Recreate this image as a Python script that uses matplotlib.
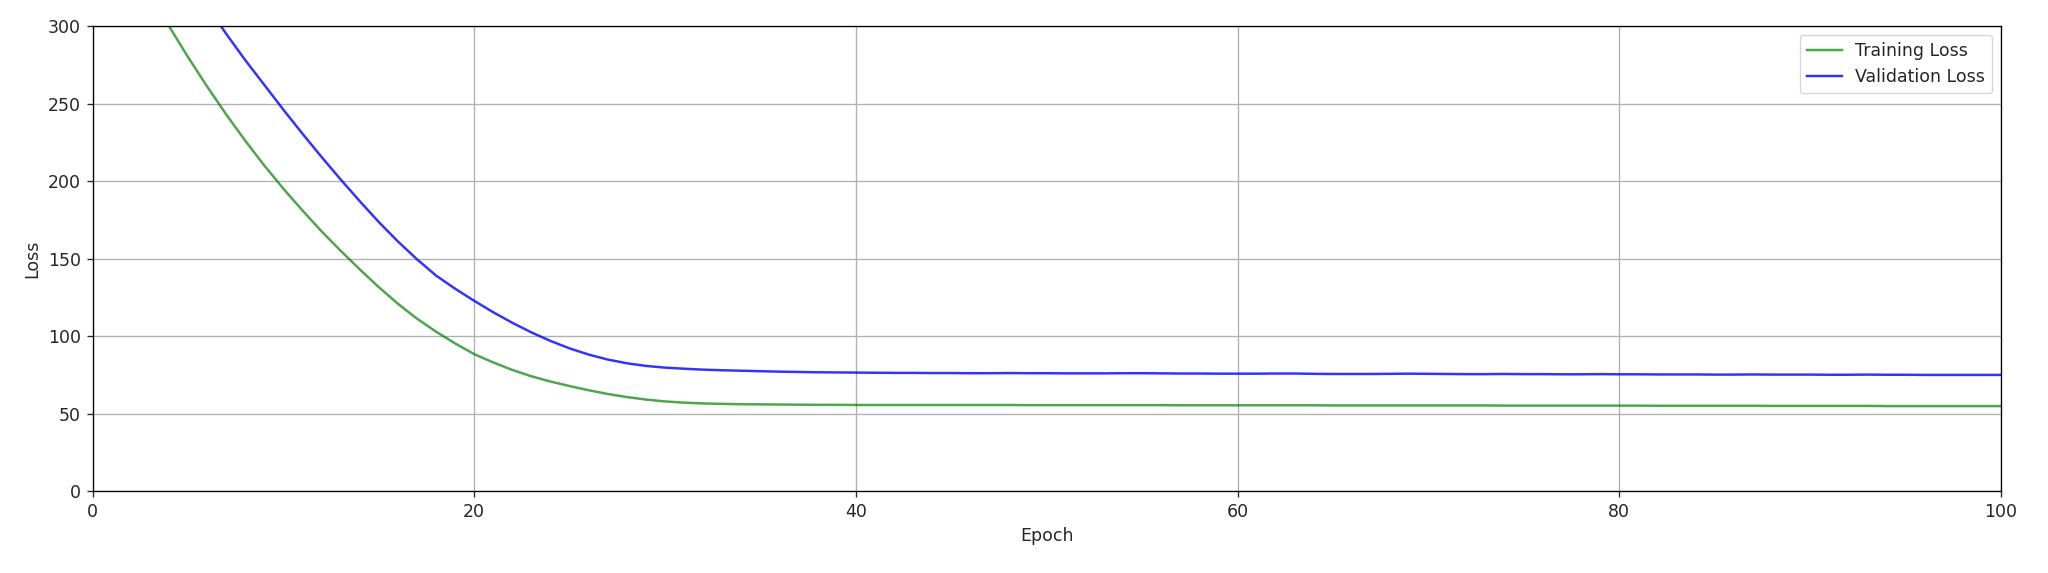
import matplotlib
matplotlib.use("Agg")
import matplotlib.pyplot as plt

epochs = list(range(1, 101))
train_loss = [
    366, 344, 322, 300, 280, 261, 243, 226, 210, 195,
    181, 167.5, 155, 143, 131.5, 120.8, 111.2, 102.8, 95.2, 88.3,
    82.9, 78.1, 74.0, 70.6, 67.7, 65.0, 62.6, 60.6, 59.0, 57.8,
    57.0, 56.5, 56.2, 56.0, 55.9, 55.8, 55.7, 55.6, 55.6, 55.5,
    55.5, 55.5, 55.5, 55.5, 55.5, 55.5, 55.5, 55.5, 55.4, 55.4,
    55.4, 55.4, 55.4, 55.4, 55.4, 55.4, 55.3, 55.3, 55.3, 55.3,
    55.3, 55.3, 55.3, 55.3, 55.2, 55.2, 55.2, 55.2, 55.2, 55.2,
    55.2, 55.2, 55.2, 55.1, 55.1, 55.1, 55.1, 55.1, 55.1, 55.1,
    55.1, 55.0, 55.0, 55.0, 55.0, 55.0, 55.0, 54.9, 54.9, 54.9,
    54.9, 54.9, 54.9, 54.8, 54.8, 54.8, 54.8, 54.8, 54.8, 54.8,
]
val_loss = [
    412, 391, 370, 350, 331, 313, 295, 278, 262, 246,
    230.5, 215.5, 201, 187, 173.5, 161, 149.5, 139, 130.5, 122.7,
    115.3, 108.5, 102.3, 96.8, 92.0, 88.0, 84.8, 82.4, 80.7, 79.6,
    78.9, 78.3, 77.9, 77.6, 77.3, 77.0, 76.8, 76.6, 76.5, 76.4,
    76.3, 76.2, 76.2, 76.1, 76.1, 76.0, 76.0, 76.1, 76.0, 76.0,
    75.9, 75.9, 75.9, 76.0, 76.0, 75.9, 75.8, 75.8, 75.7, 75.7,
    75.7, 75.8, 75.8, 75.6, 75.5, 75.5, 75.5, 75.6, 75.7, 75.6,
    75.5, 75.4, 75.4, 75.5, 75.4, 75.4, 75.3, 75.3, 75.4, 75.3,
    75.3, 75.2, 75.2, 75.2, 75.1, 75.1, 75.2, 75.1, 75.1, 75.1,
    75.0, 75.0, 75.1, 75.0, 75.0, 74.9, 74.9, 74.9, 74.9, 74.9,
]

k = 1.65 / (100 / 72)  # scale factor from original rendering

plt.rcParams.update({
    "font.family": "DejaVu Sans",
    "font.size": 10.5 * k,
    "axes.linewidth": 0.8 * k,
    "xtick.major.width": 0.8 * k,
    "ytick.major.width": 0.8 * k,
    "xtick.major.size": 3.5 * k,
    "ytick.major.size": 3.5 * k,
    "xtick.major.pad": 3.5 * k,
    "ytick.major.pad": 3.5 * k,
    "axes.labelpad": 4 * k,
    "grid.linewidth": 0.8 * k,
    "text.color": "#262626",
    "xtick.color": "#262626",
    "ytick.color": "#262626",
    "axes.labelcolor": "#262626",
})

fig = plt.figure(figsize=(20.48, 5.73), dpi=100)
ax = fig.add_axes([0.0452, 0.1431, 0.9770 - 0.0452, 0.9546 - 0.1431])

ax.plot(epochs, train_loss, color="g", alpha=0.7, linewidth=1.5 * k, label="Training Loss")
ax.plot(epochs, val_loss, color="b", alpha=0.8, linewidth=1.5 * k, label="Validation Loss")

ax.set_xlim(0, 100)
ax.set_ylim(0, 300)
ax.set_xticks([0, 20, 40, 60, 80, 100])
ax.set_yticks([0, 50, 100, 150, 200, 250, 300])
ax.set_xlabel("Epoch")
ax.set_ylabel("Loss")
ax.grid(True)
ax.legend(loc="upper right")

fig.savefig("out.png", dpi=100)
